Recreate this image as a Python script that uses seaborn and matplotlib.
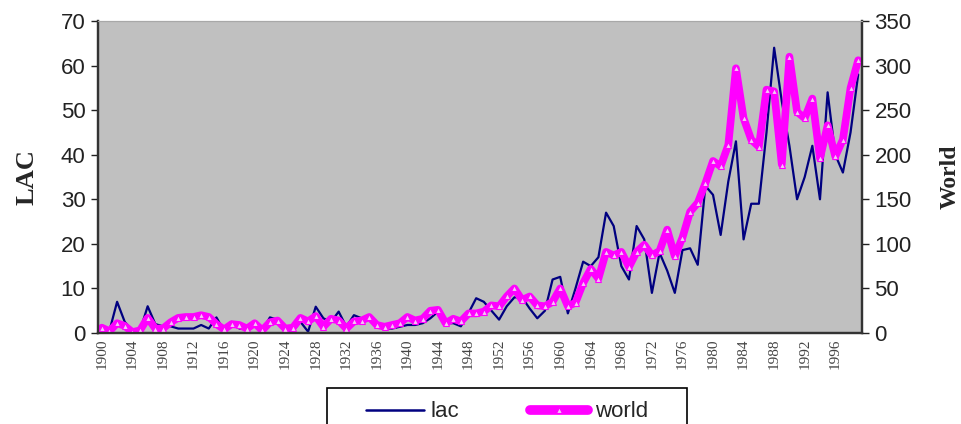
import numpy as np
import pandas as pd
import matplotlib
matplotlib.use("Agg")
import matplotlib.pyplot as plt
import seaborn as sns
from matplotlib.lines import Line2D
from matplotlib.patches import Rectangle

years = list(range(1900, 2000))

lac = [1, 0.5, 7, 2.5, 0.5, 0.5, 6, 2, 1.5, 1.5,
       1, 1, 1, 1.8, 1, 3.5, 0.5, 2.5, 1, 1,
       1.5, 0.5, 3.5, 3, 0.5, 0.5, 2.5, 0.3, 5.9, 3.3,
       2.5, 4.8, 1.4, 4, 3.3, 2.9, 1.4, 1, 1, 1.4,
       1.8, 1.8, 2.2, 3.3, 4.8, 2.2, 2.2, 1.5, 4.5, 7.8,
       7, 5, 3, 6, 8, 8, 5.5, 3.3, 5, 12,
       12.6, 4.4, 10, 16, 15, 17, 27, 24, 15, 12,
       24, 21, 9, 18, 14, 9, 18.6, 19, 15.3, 33,
       31, 22, 34, 43, 21, 29, 29, 45, 64, 52,
       42, 30, 35, 42, 30, 54, 40, 36, 45, 58]

world = [6, 2, 11, 8, 1, 3, 17, 5, 5, 12,
         17, 18, 18, 20, 18, 10, 4, 10, 9, 5,
         11, 3, 12, 14, 5, 6, 17, 13, 19, 7,
         16, 14, 5, 13, 14, 18, 9, 7, 9, 11,
         18, 14, 16, 25, 26, 11, 16, 13, 22, 22,
         24, 31, 30, 41, 50, 37, 41, 31, 30, 35,
         50, 30, 34, 56, 72, 61, 91, 87, 91, 74,
         91, 99, 87, 92, 116, 86, 107, 136, 146, 168,
         193, 187, 211, 297, 241, 217, 209, 273, 271, 189,
         310, 248, 241, 263, 196, 233, 198, 217, 275, 306]

tick_years = list(range(1900, 2000, 4))

df = pd.DataFrame({"pos": np.arange(len(years)), "year": years, "lac": lac, "world": world})

sns.set_style("white")
plt.rcParams["font.family"] = ["Liberation Sans", "DejaVu Sans"]

fig = plt.figure(figsize=(9.61, 4.24), dpi=100)
ax = fig.add_axes([98/961, 1-333/424, (862-98)/961, (333-21)/424])
ax.set_facecolor("#C0C0C0")
ax2 = ax.twinx()

sns.lineplot(data=df, x="pos", y="lac", ax=ax, color="#000080", linewidth=1.6, legend=False)
sns.lineplot(data=df, x="pos", y="world", ax=ax2, color="#FF00FF", linewidth=5.5,
             marker="^", markersize=5, markerfacecolor="#F4C8F4",
             markeredgecolor="#FF00FF", markeredgewidth=0.8, legend=False)

ax.set_xlim(-0.5, len(years) - 0.5)
ax.set_ylim(0, 70)
ax2.set_ylim(0, 350)
ax.set_yticks(range(0, 71, 10))
ax2.set_yticks(range(0, 351, 50))

tick_pos = [years.index(y) for y in tick_years]
ax.set_xticks(tick_pos)
ax.set_xticklabels([str(y) for y in tick_years], rotation=90, fontsize=11,
                   family=["Liberation Serif"], color="#444444")
ax.tick_params(axis="x", length=0, pad=4)
ax.tick_params(axis="y", labelsize=16, length=5, width=1, direction="out", colors="#222222", pad=4)
ax2.tick_params(axis="y", labelsize=16, length=5, width=1, direction="out", colors="#222222", pad=4)
ax2.tick_params(axis="x", length=0)

ax.set_xlabel("")
ax.set_ylabel("LAC", fontsize=19, fontweight="bold", family=["Liberation Serif"], labelpad=16)
ax2.set_ylabel("World", fontsize=17, fontweight="bold", family=["Liberation Serif"], labelpad=20)

for a in (ax, ax2):
    for s in ("left", "right", "bottom"):
        a.spines[s].set_color("#333333")
        a.spines[s].set_linewidth(1.6)
    a.spines["top"].set_color("#A8A8A8")
    a.spines["top"].set_linewidth(0.8)
    a.grid(False)

# legend frame drawn as a box in figure pixels
fig.patches.append(Rectangle((327/961, 1-426/424), 360/961, 38/424,
                             transform=fig.transFigure, facecolor="white",
                             edgecolor="black", linewidth=1.2, zorder=1))

handles = [Line2D([], [], color="#000080", linewidth=1.8),
           Line2D([], [], color="#FF00FF", linewidth=7, marker="^", markersize=5,
                  markerfacecolor="#F4C8F4", markeredgecolor="#FF00FF", markeredgewidth=0.8)]
leg = fig.legend(handles, ["lac", "world"], loc="upper center",
                 bbox_to_anchor=(507/961, 1-387/424), ncol=2, fontsize=16,
                 frameon=False, handlelength=2.6,
                 columnspacing=3.2, borderpad=0.15, handletextpad=0.3)
leg.set_zorder(5)

fig.savefig("out.png", dpi=100)
